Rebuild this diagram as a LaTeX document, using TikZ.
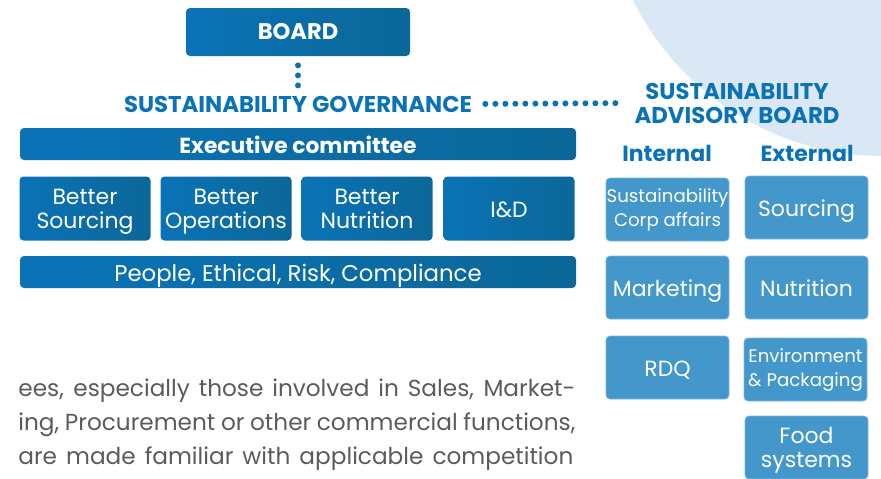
\documentclass[tikz,border=0pt]{standalone}
\usepackage{fontspec}
\setmainfont{Poppins}
\usetikzlibrary{positioning}
\definecolor{govblue}{HTML}{0A73B7}
\definecolor{govdark}{HTML}{0B6798}
\definecolor{advblue}{HTML}{4397CA}
\definecolor{advline}{HTML}{7DB8DD}
\definecolor{bgblue}{HTML}{D9E8F4}
\definecolor{bodygray}{HTML}{5B5B5B}
\newcommand{\twolines}[2]{\strut #1\\\strut #2}
\newcommand{\unitlines}[2]{\rule{0pt}{8.4pt}#1\\\smash{#2}}
\tikzset{
  govbox/.style={rounded corners=2pt, left color=govblue, right color=govdark, text=white, inner sep=0pt, align=center},
  oneline/.style={text height=9pt, text depth=0pt},
  unitbox/.style={govbox, minimum width=65.5pt, minimum height=32pt, font=\fontsize{11}{12}\selectfont},
  advbox/.style={rounded corners=2pt, fill=advblue, draw=advline, line width=0.4pt, text=white, minimum width=61.5pt, minimum height=31.5pt, inner sep=0pt, align=center, font=\fontsize{11}{12}\selectfont},
  smalladv/.style={advbox, font=\fontsize{9.1}{12}\selectfont},
  headtext/.style={text=govblue, font=\bfseries\fontsize{11.4}{12}\selectfont, inner sep=0pt, align=center},
  dotline/.style={govblue, line width=3pt, line cap=round, dash pattern=on 0pt off 5pt},
  bodyline/.style={anchor=base west, inner sep=0pt, text=bodygray, font=\fontsize{11.6}{12}\selectfont},
}
\begin{document}
\begin{tikzpicture}[x=0.5pt,y=-0.5pt]
\clip (0,0) rectangle (881,478);
\useasboundingbox (0,0) rectangle (881,478);
% light circle in the corner
\fill[bgblue] (884,-124) circle[radius=280];

% governance side
\node[govbox, minimum width=112pt, minimum height=24pt, font=\bfseries\fontsize{11.3}{12}\selectfont] (board) at (298,32) {BOARD};
\node[headtext] (gov) at (298,104) {SUSTAINABILITY GOVERNANCE};
\node[govbox, oneline, minimum width=278pt, minimum height=16pt, font=\bfseries\fontsize{10.9}{12}\selectfont] (exco) at (298,144) {Executive committee};
\node[unitbox] (sourcing) at (85,208.5) {\unitlines{Better}{Sourcing}};
\node[unitbox] (operations) at (226,208.5) {\unitlines{Better}{Operations}};
\node[unitbox] (nutrition) at (367,208.5) {\unitlines{Better}{Nutrition}};
\node[unitbox, oneline] (iandd) at (509,208.5) {I\&D};
\node[govbox, oneline, minimum width=278pt, minimum height=16pt, font=\fontsize{11.4}{12}\selectfont] (people) at (298,272) {People, Ethical, Risk, Compliance};

% advisory board side
\node[headtext] (sab) at (737,103) {SUSTAINABILITY\\ADVISORY BOARD};
\node[headtext, font=\bfseries\fontsize{11}{12}\selectfont] (internal) at (667,153) {Internal};
\node[headtext, font=\bfseries\fontsize{11}{12}\selectfont] (external) at (807,153) {External};
\node[smalladv] (corp) at (667.5,209.5) {\twolines{Sustainability}{Corp affairs}};
\node[advbox, oneline] (marketing) at (667.5,287.5) {Marketing};
\node[advbox, oneline] (rdq) at (667.5,367.5) {RDQ};
\node[advbox, oneline] (extsourcing) at (806.5,207.5) {Sourcing};
\node[advbox, oneline] (extnutrition) at (806.5,287.5) {Nutrition};
\node[smalladv] (environment) at (805.5,369.5) {\twolines{Environment}{\& Packaging}};
\node[advbox] (food) at (806.5,447.5) {\unitlines{Food}{systems}};

% dotted links
\draw[dotline, shorten <=4.5pt, shorten >=4.5pt] (board.south) -- (gov.north);
\draw[dotline, shorten <=6.5pt, shorten >=5.5pt] (gov.east) -- (sab.west);

% running text below
\node[bodyline] (line1) at (18,396) {\makebox[278.5pt][s]{ees, especially those involved in Sales, Market-}};
\node[bodyline] (line2) at (18,430) {\makebox[278.5pt][s]{ing, Procurement or other commercial functions,}};
\node[bodyline] (line3) at (18,464) {\makebox[277.5pt][s]{are made familiar with applicable competition}};
\end{tikzpicture}
\end{document}
